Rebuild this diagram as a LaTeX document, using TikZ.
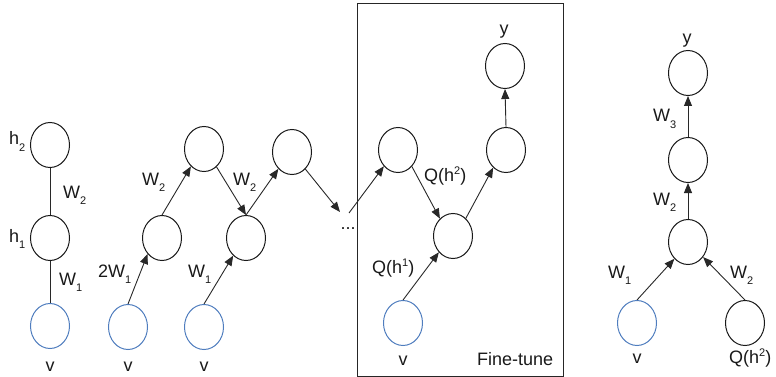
\documentclass[tikz,border=0pt]{standalone}
\usepackage{fontspec}
\setmainfont{Liberation Sans}
\usetikzlibrary{shapes.geometric,arrows.meta}
\definecolor{unitblue}{RGB}{79,125,190}
\definecolor{edgegray}{RGB}{40,40,40}
\newcommand{\dn}[1]{\raisebox{-6pt}{\fontsize{11}{12}\selectfont #1}}
\newcommand{\up}[1]{\raisebox{7pt}{\fontsize{11}{12}\selectfont #1}}
\begin{document}
\begin{tikzpicture}[x=1pt,y=-1pt,
  unit/.style={ellipse,draw=black!90,line width=1pt,minimum width=39pt,minimum height=45pt,inner sep=0pt},
  visible/.style={unit,draw=unitblue},
  lbl/.style={inner sep=0pt,font=\fontsize{18}{20}\selectfont,text=black!90},
  link/.style={draw=edgegray,line width=0.9pt},
  arr/.style={link,-{Triangle[length=10pt,width=8pt]}}]
\useasboundingbox (0,0) rectangle (776,377);

% stacked RBM stack, undirected
\node[unit] (h2) at (50,145) {};
\node[unit] (h1) at (50,238) {};
\node[visible] (v0) at (50,326) {};
\draw[link] (h2.south) -- (h1.north);
\draw[link] (h1.south) -- (v0.north);
\node[lbl,anchor=base west] at (9,145) {h\dn{2}};
\node[lbl,anchor=base west] at (9,242) {h\dn{1}};
\node[lbl,anchor=base west] at (63,198) {W\dn{2}};
\node[lbl,anchor=base west] at (59,285) {W\dn{1}};
\node[lbl,anchor=base] at (50,371) {v};

% unrolled recognition chain
\node[visible] (v1) at (128,327) {};
\node[visible] (v2) at (204,327) {};
\node[unit] (a) at (162,238) {};
\node[unit] (b) at (204,149) {};
\node[unit] (c) at (246,238) {};
\node[unit] (d) at (292,152) {};
\node[lbl,inner sep=0pt] (dots) at (348,229) {...};
\coordinate (dotin) at (340,212);
\coordinate (dotout) at (349,213);
\draw[arr] (v1.north) -- (a.228);
\draw[arr] (a.north) -- (b.233);
\draw[arr] (b.-55) -- (c.north);
\draw[arr] (v2.north) -- (c.234);
\draw[arr] (c.north) -- (d.231);
\draw[arr] (d.-52) -- (dotin);
\node[lbl,anchor=base west] at (142,185) {W\dn{2}};
\node[lbl,anchor=base west] at (233,185) {W\dn{2}};
\node[lbl,anchor=base west] at (98,277) {2W\dn{1}};
\node[lbl,anchor=base west] at (188,277) {W\dn{1}};
\node[lbl,anchor=base] at (128,371) {v};
\node[lbl,anchor=base] at (204,371) {v};

% fine-tuning frame
\node[draw=black!85,line width=0.9pt,inner sep=0pt,minimum width=206pt,minimum height=373pt] (frame) at (460,189.5) {};
\node[unit] (e) at (398,150) {};
\node[unit] (f) at (453,236) {};
\node[unit] (g) at (506,150) {};
\node[unit] (yf) at (505,66) {};
\node[visible] (vf) at (403,323) {};
\draw[arr] (dotout) -- (e.229);
\draw[arr] (e.-50) -- (f.127);
\draw[arr] (vf.north) -- (f.229);
\draw[arr] (f.54) -- (g.234);
\draw[arr] (g.north) -- (yf.south);
\node[lbl,anchor=base] at (504,35) {y};
\node[lbl,anchor=base west] at (424,181) {Q(h\up{2})};
\node[lbl,anchor=base west] at (372,273) {Q(h\up{1})};
\node[lbl,anchor=base] at (403,365) {v};
\node[lbl,anchor=base west] at (477,365) {Fine-tune};

% resulting feed-forward net
\node[unit] (ry) at (688,73) {};
\node[unit] (rm) at (688,160) {};
\node[unit] (rl) at (688,242) {};
\node[visible] (rv) at (637,323) {};
\node[unit] (rq) at (745,323) {};
\draw[arr] (rv.north) -- (rl.231);
\draw[arr] (rq.north) -- (rl.-45);
\draw[arr] (rl.north) -- (rm.south);
\draw[arr] (rm.north) -- (ry.south);
\node[lbl,anchor=base] at (687,44) {y};
\node[lbl,anchor=base west] at (653,122) {W\dn{3}};
\node[lbl,anchor=base west] at (653,205) {W\dn{2}};
\node[lbl,anchor=base west] at (608,278) {W\dn{1}};
\node[lbl,anchor=base west] at (730,278) {W\dn{2}};
\node[lbl,anchor=base] at (637,363) {v};
\node[lbl,anchor=base west] at (729,363) {Q(h\up{2})};
\end{tikzpicture}
\end{document}
